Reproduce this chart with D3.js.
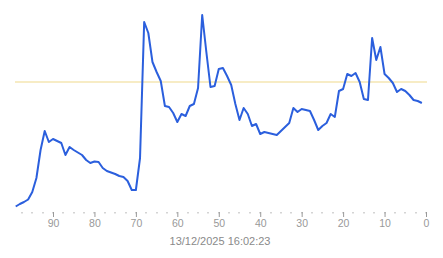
<!DOCTYPE html>
<html>
<head>
<meta charset="utf-8">
<title>chart</title>
<style>
body { margin: 0; background: #fff; }
svg { display: block; }
.tick text { fill: #999; font-family: "Liberation Sans", Arial, sans-serif; font-size: 10.5px; }
.tick line { stroke: #999; }
</style>
</head>
<body>
<div id="chart"></div>
<script src="https://cdn.jsdelivr.net/npm/d3@7"></script>
<script>
// ages (minutes ago), from 99 down to 0
var ages = d3.range(99, -1, -1);
// readings, one per age above
var values = [
  3.5, 6, 8, 10.5, 18, 32, 60, 79, 68, 71,
  69, 67, 55, 63, 60, 57.5, 55, 50, 47, 48.5,
  48, 42, 39, 37.5, 36, 34, 33, 29, 20, 20,
  52, 188, 177, 148, 138, 129, 104, 103, 97, 88,
  96, 94, 104, 106, 122, 195, 158, 123, 124, 141,
  142, 134, 125, 106, 90, 102, 96, 84, 86, 76,
  78, 77, 76, 75, 79, 83, 87, 102, 98, 101,
  100, 99, 90, 80, 84, 87, 96, 93, 119, 121,
  136, 134, 137, 128, 111, 110, 172, 150, 163, 136,
  132, 127, 118, 121, 119, 115, 110, 109, 107
];
var threshold = 128;
var xTicks = [90, 80, 70, 60, 50, 40, 30, 20, 10, 0];
var minorTicks = d3.range(97.5, -1, -2.5);
var stamp = "13/12/2025 16:02:23";

var w = 443, h = 258;

var svg = d3.select('#chart').append('svg')
  .attr('width', w)
  .attr('height', h);

var xScale = d3.scaleLinear()
  .domain([99, 0])
  .range([15.7, 426]);

var yScale = d3.scaleLinear()
  .domain([0, 200])
  .range([210, 10]);

// threshold line
svg.append('line')
  .attr('x1', 15)
  .attr('x2', 427)
  .attr('y1', yScale(threshold))
  .attr('y2', yScale(threshold))
  .attr('stroke', '#efd98c')
  .attr('stroke-width', 1.2);

var line = d3.line()
  .x(function(d, i) { return xScale(ages[i]); })
  .y(function(d) { return yScale(d); });

svg.append('path')
  .datum(values)
  .attr('fill', 'none')
  .attr('stroke', '#2b5fdd')
  .attr('stroke-width', 2)
  .attr('stroke-linejoin', 'round')
  .attr('d', line);

// minor tick dots
svg.append('g').selectAll('rect')
  .data(minorTicks)
  .enter()
  .append('rect')
  .attr('x', function(d) { return Math.round(xScale(d)) - 0.5; })
  .attr('y', 212)
  .attr('width', 1)
  .attr('height', 1.5)
  .attr('fill', '#aaa');

var axis = d3.axisBottom(xScale)
  .tickValues(xTicks)
  .tickSize(5)
  .tickPadding(3)
  .tickFormat(d3.format('d'));

svg.append('g')
  .attr('transform', 'translate(0, 212)')
  .call(axis)
  .call(function(g) { g.select('.domain').remove(); });

svg.append('text')
  .attr('x', 220)
  .attr('y', 245)
  .attr('text-anchor', 'middle')
  .attr('fill', '#8a8a8a')
  .style('font-family', '"Liberation Sans", Arial, sans-serif')
  .style('font-size', '11px')
  .text(stamp);
</script>
</body>
</html>
